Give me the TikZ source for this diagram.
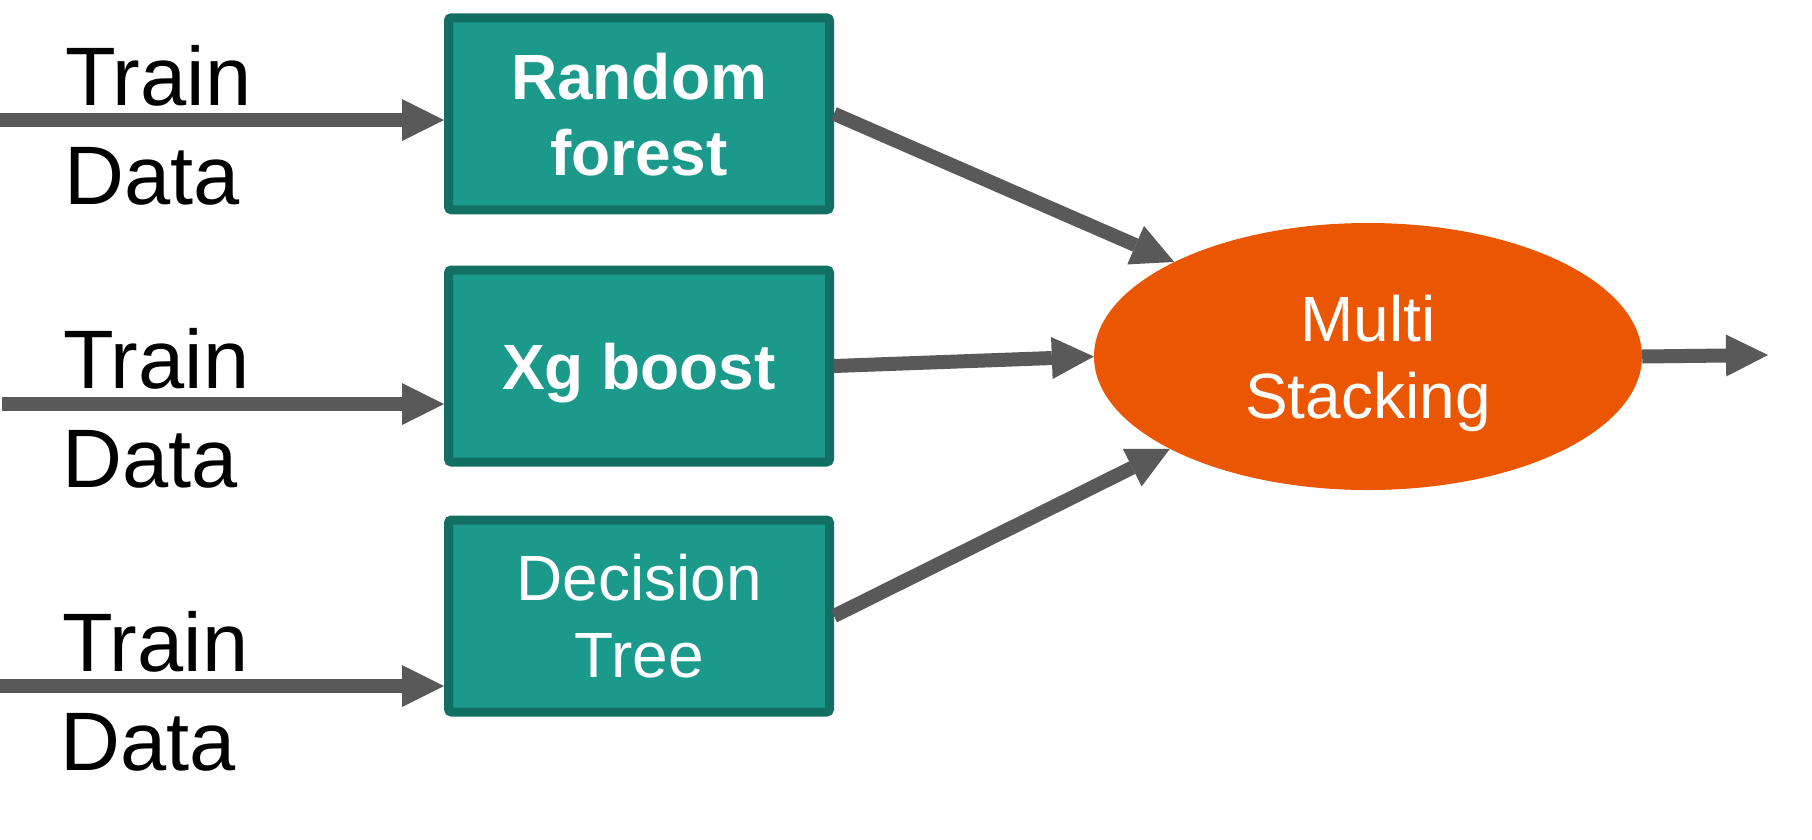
\documentclass[tikz,border=0pt]{standalone}
\usepackage{fontspec}
\setmainfont{Liberation Sans}
\usetikzlibrary{arrows.meta,shapes.geometric}
\definecolor{tealfill}{RGB}{27,153,139}
\definecolor{tealdark}{RGB}{17,111,99}
\definecolor{orng}{RGB}{234,86,2}
\definecolor{arrowgray}{RGB}{89,89,89}
\begin{document}
\begin{tikzpicture}[x=1pt,y=-1pt,
  model/.style={draw=tealdark, fill=tealfill, line width=9pt, rounded corners=3pt,
    minimum width=381pt, minimum height=192pt, inner sep=0pt},
  boxtext/.style={text=white, font=\fontsize{64}{76}\selectfont, anchor=base, inner sep=0pt},
  boldtext/.style={boxtext, font=\fontsize{64}{76}\selectfont\bfseries},
  lbl/.style={text=black, font=\fontsize{83}{99}\selectfont, anchor=base west, inner sep=0pt},
  conn/.style={draw=arrowgray, line width=14pt,
    -{Triangle[length=42pt,width=42pt,line width=0pt]}},
]
\fill[white] (0,0) rectangle (1812,839);
\useasboundingbox (0,0) rectangle (1812,839);

% model boxes
\node[model] (rf) at (639,113.75) {};
\node[model] (xg) at (639,366) {};
\node[model] (dt) at (639,616) {};
\node[ellipse, fill=orng, minimum width=548pt, minimum height=267pt, inner sep=0pt] (ms) at (1368,356.5) {};

% coordinates for free ends
\coordinate (in1) at (0,120);
\coordinate (in2) at (2,404);
\coordinate (in3) at (0,686);
\coordinate (out) at (1768,355);

% connectors
\draw[conn] (in1) -- (in1 -| rf.west);
\draw[conn] (in2) -- (in2 -| xg.west);
\draw[conn] (in3) -- (in3 -| dt.west);
\draw[conn] (rf.east) -- (ms.154.6);
\draw[conn] (xg.east) -- (ms.west);
\draw[conn] (dt.east) -- (ms.205.4);
\draw[conn] (ms.east) -- (out);

% box texts
\node[boldtext] (rft1) at (639,99) {Random};
\node[boldtext] (rft2) at (639,175) {forest};
\node[boldtext] (xgt) at (639,389) {Xg boost};
\node[boxtext] (dtt1) at (639,600) {Decision};
\node[boxtext] (dtt2) at (639,677) {Tree};
\node[boxtext] (mst1) at (1368,341.7) {Multi};
\node[boxtext] (mst2) at (1368,418) {Stacking};

% input labels
\node[lbl] (tr1) at (65,105) {Train};
\node[lbl] (da1) at (64.5,204) {Data};
\node[lbl] (tr2) at (63,388) {Train};
\node[lbl] (da2) at (62.5,487) {Data};
\node[lbl] (tr3) at (62,671) {Train};
\node[lbl] (da3) at (60.5,770) {Data};
\end{tikzpicture}
\end{document}
